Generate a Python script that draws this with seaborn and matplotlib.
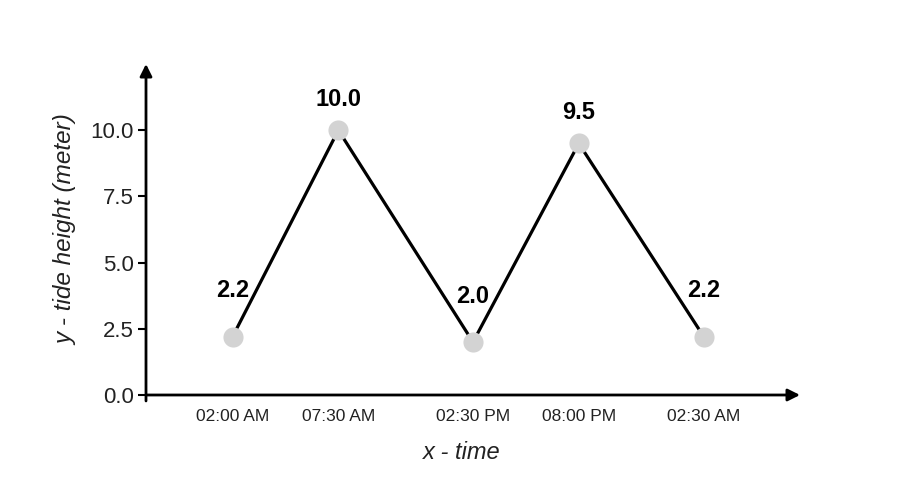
import matplotlib
matplotlib.use("Agg")
import matplotlib.pyplot as plt
import seaborn as sns
import pandas as pd

# data
hours = [2.0, 7.5, 14.5, 20.0, 26.5]
time_labels = ["02:00 AM", "07:30 AM", "02:30 PM", "08:00 PM", "02:30 AM"]
heights = [2.2, 10.0, 2.0, 9.5, 2.2]
y_ticks = [0.0, 2.5, 5.0, 7.5, 10.0]

sns.set_theme(style="white")
plt.rcParams["font.family"] = ["Liberation Sans", "DejaVu Sans"]

df = pd.DataFrame({"hour": hours, "height": heights})

fig = plt.figure(figsize=(9, 5), dpi=100)
ax = fig.add_axes([146 / 900, 1 - 395 / 500, (800 - 146) / 900, (395 - 64) / 500])

sns.lineplot(data=df, x="hour", y="height", ax=ax, color="black", linewidth=2.3,
             marker="o", markersize=14.5, markerfacecolor="#d3d3d3",
             markeredgecolor="#d3d3d3", markeredgewidth=0)

ax.set_xlim(-2.5, 31.5)
ax.set_ylim(0, 12.5)

for sp in ax.spines.values():
    sp.set_visible(False)

# axis arrows
ax.annotate("", xy=(1, 0), xytext=(0, 0), xycoords="axes fraction",
            arrowprops=dict(arrowstyle="-|>", color="black", lw=2,
                            mutation_scale=18, shrinkA=0, shrinkB=0))
ax.annotate("", xy=(0, 1), xytext=(0, -0.018), xycoords="axes fraction",
            arrowprops=dict(arrowstyle="-|>", color="black", lw=2,
                            mutation_scale=18, shrinkA=0, shrinkB=0))

ax.set_xticks(hours)
ax.set_xticklabels(time_labels, fontsize=12.5, color="#222222")
ax.set_yticks(y_ticks)
ax.set_yticklabels([f"{v:.1f}" for v in y_ticks], fontsize=16, color="#222222")
ax.tick_params(axis="x", length=0, pad=10)
ax.tick_params(axis="y", left=True, length=6, width=1.5, color="black", pad=3)

ax.set_xlabel("x - time", fontsize=17, fontstyle="italic", color="#222222")
ax.xaxis.set_label_coords(0.483, -0.14)
ax.set_ylabel("y - tide height (meter)", fontsize=17.5, fontstyle="italic", color="#222222")
ax.yaxis.set_label_coords(-0.105, 0.5)

for i, (h, v) in enumerate(zip(hours, heights)):
    left = heights[i - 1] if i > 0 else -1e9
    right = heights[i + 1] if i < len(heights) - 1 else -1e9
    peak = v > left and v > right
    off = 22 if peak else 33
    ax.annotate(f"{v:.1f}", xy=(h, v), xytext=(0, off), textcoords="offset points",
                ha="center", va="center", fontsize=17, fontweight="bold", color="black")

fig.savefig("out.png", dpi=100)
